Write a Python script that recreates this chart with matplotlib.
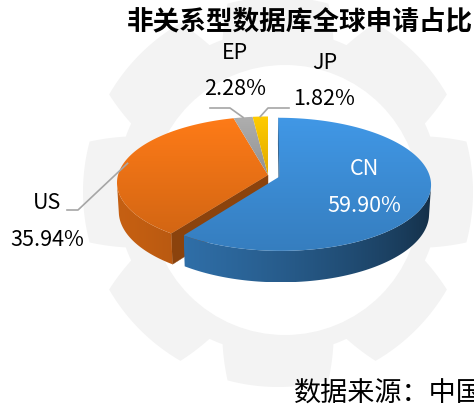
import numpy as np
import matplotlib
matplotlib.use("Agg")
import matplotlib.pyplot as plt
from matplotlib.patches import Polygon
from matplotlib.colors import to_rgb

plt.rcParams['font.family'] = ['Noto Sans CJK SC', 'DejaVu Sans']

# data
title = "非关系型数据库全球申请占比"
source = "数据来源：中国"
labels = ["CN", "US", "EP", "JP"]
shares = [59.90, 35.94, 2.28, 1.82]
colors = ["#3d8fd9", "#f07416", "#a5a5a5", "#ffc000"]
explode = [0.08, 0, 0, 0]

# 3d view settings (pixel space)
cx, cy = 268, 175       # centre of the top face
K = 150                 # radius in pixels
elev = np.radians(25.8)
D = 7.8                 # camera distance
H = 0.215               # thickness


def proj(x, z, h):
    u = z * np.sin(elev) + h * np.cos(elev)
    d = -z * np.cos(elev) + h * np.sin(elev)
    s = D / (D - d)
    return cx + K * x * s, cy - K * u * s


cam = (0.0, -D * np.cos(elev))


def wall_factor(ang):
    return 0.55 + 0.27 * np.cos(ang - np.radians(200))


def gradient_fill(ax, pts, xs, cols, zorder, vertical=False):
    poly = Polygon(pts, closed=True, fc="none", ec="none", zorder=zorder)
    ax.add_patch(poly)
    p = np.array(pts)
    x0, x1 = p[:, 0].min(), p[:, 0].max()
    y0, y1 = p[:, 1].min(), p[:, 1].max()
    if vertical:
        grid = np.linspace(y0, y1, 128)
        img = np.stack([np.interp(grid, xs, cols[:, k]) for k in range(3)], -1)[:, None, :]
    else:
        grid = np.linspace(x0, x1, 256)
        img = np.stack([np.interp(grid, xs, cols[:, k]) for k in range(3)], -1)[None, :, :]
    im = ax.imshow(np.clip(img, 0, 1), extent=(x0, x1, y1, y0), aspect='auto',
                   zorder=zorder, interpolation='bilinear')
    im.set_clip_path(poly)


fig = plt.figure(figsize=(4.74, 4.08), dpi=100)
ax = fig.add_axes([0, 0, 1, 1])
ax.axis('off')

# gear watermark
gx, gy = 278, 192
t = np.linspace(0, 2 * np.pi, 1441)
rad = np.full_like(t, 162.0)
for k in range(8):
    c = np.radians(90 + 45 * k)
    dt = np.abs(np.angle(np.exp(1j * (t - c))))
    tip = dt < np.radians(15)
    ramp = (dt >= np.radians(15)) & (dt < np.radians(20))
    rad[tip] = 195
    rad[ramp] = 195 - 33 * (dt[ramp] - np.radians(15)) / np.radians(5)
ax.add_patch(Polygon(np.c_[gx + rad * np.cos(t), gy - rad * np.sin(t)],
                     closed=True, fc="#f3f3f3", ec="none", zorder=0))
ax.add_patch(plt.Circle((285, 200), 135, fc="white", ec="none", zorder=0.5))

# wedge angles, clockwise from 12 o'clock
total = sum(shares)
n = len(shares)
bounds = 90 - 360 * np.cumsum([0] + shares) / total
pieces = []
for i in range(n):
    a0, a1 = np.radians(bounds[i + 1]), np.radians(bounds[i])
    mid = (a0 + a1) / 2
    ox, oz = explode[i] * np.cos(mid), explode[i] * np.sin(mid)
    pieces.append((a0, a1, mid, ox, oz))

# back pieces first, exploded CN last
order = [1, 2, 3, 0]
z = 2
for i in order:
    a0, a1, mid, ox, oz = pieces[i]
    rgb = np.array(to_rgb(colors[i]))
    th = np.linspace(a0, a1, max(6, int(np.degrees(a1 - a0))))
    # radial faces (only where a neighbour is pulled away)
    for ang, sgn, nb in [(a0, -1, (i + 1) % n), (a1, 1, (i - 1) % n)]:
        if explode[i] == 0 and explode[nb] == 0:
            continue
        nx, nz = -sgn * np.sin(ang), sgn * np.cos(ang)
        px, pz = ox + 0.5 * np.cos(ang), oz + 0.5 * np.sin(ang)
        if nx * (cam[0] - px) + nz * (cam[1] - pz) > 0:
            pts = [proj(ox, oz, 0), proj(ox + np.cos(ang), oz + np.sin(ang), 0),
                   proj(ox + np.cos(ang), oz + np.sin(ang), -H), proj(ox, oz, -H)]
            col = tuple(rgb * 0.58)
            ax.add_patch(Polygon(pts, closed=True, fc=col, ec=col, lw=0.3, zorder=z))
    # outer wall, visible part only
    vis = np.array([(-np.cos(a) * ox - 1 + np.sin(a) * (cam[1] - oz)) > 0 for a in th])
    tv = th[vis]
    if len(tv) > 1:
        tv = np.linspace(tv.min(), tv.max(), 120)
        topa = [proj(ox + np.cos(a), oz + np.sin(a), 0) for a in tv]
        bota = [proj(ox + np.cos(a), oz + np.sin(a), -H) for a in tv]
        xs = np.array([p[0] for p in topa])
        cols = np.array([rgb * wall_factor(a) for a in tv])
        srt = np.argsort(xs)
        gradient_fill(ax, topa + bota[::-1], xs[srt], cols[srt], z + 0.2)
    # top face with a soft vertical gradient
    top = [proj(ox, oz, 0)] + [proj(ox + np.cos(a), oz + np.sin(a), 0) for a in th]
    ys = np.array([p[1] for p in top])
    gy_ = np.array([ys.min(), ys.max()])
    gcols = np.array([np.clip(rgb * 1.06, 0, 1), rgb * 0.88])
    gradient_fill(ax, top, gy_, gcols, z + 0.5, vertical=True)
    z += 1

ax.set_xlim(0, 474)
ax.set_ylim(408, 0)


def rim(i):
    a0, a1, mid, ox, oz = pieces[i]
    return proj(ox + np.cos(mid), oz + np.sin(mid), 0)


lab_fs = 15.5
line_c = "#a6a6a6"
# CN label inside
a0, a1, mid, ox, oz = pieces[0]
px, py = proj(ox + 0.55 * np.cos(mid), oz + 0.55 * np.sin(mid), 0)
ax.text(px + 4, py - 19, labels[0], color="white", fontsize=lab_fs, ha="center", va="center", zorder=20)
ax.text(px + 4, py + 18, f"{shares[0]:.2f}%", color="white", fontsize=lab_fs, ha="center", va="center", zorder=20)

# US label with leader
rx, ry = rim(1)
ax.plot([rx + 4, 78, 67], [ry, 210, 210], color=line_c, lw=1.2, zorder=20)
ax.text(47, 203, labels[1], fontsize=lab_fs, ha="center", va="center", zorder=20)
ax.text(47, 240, f"{shares[1]:.2f}%", fontsize=lab_fs, ha="center", va="center", zorder=20)

# EP label
rx, ry = rim(2)
ax.plot([rx, 230, 210], [ry, 108, 108], color=line_c, lw=1.2, zorder=20)
ax.text(235, 53, labels[2], fontsize=lab_fs, ha="center", va="center", zorder=20)
ax.text(235, 89, f"{shares[2]:.2f}%", fontsize=lab_fs, ha="center", va="center", zorder=20)

# JP label
rx, ry = rim(3)
ax.plot([rx, 268, 289], [ry, 108, 108], color=line_c, lw=1.2, zorder=20)
ax.text(325, 63, labels[3], fontsize=lab_fs, ha="center", va="center", zorder=20)
ax.text(324, 99, f"{shares[3]:.2f}%", fontsize=lab_fs, ha="center", va="center", zorder=20)

ax.text(127, 22, title, fontsize=19.2, fontweight="bold", ha="left", va="center", zorder=20)
# the reference crops this line at the right edge
ax.text(294, 393, source, fontsize=19.5, ha="left", va="center", zorder=20)

fig.savefig("out.png", dpi=100)
